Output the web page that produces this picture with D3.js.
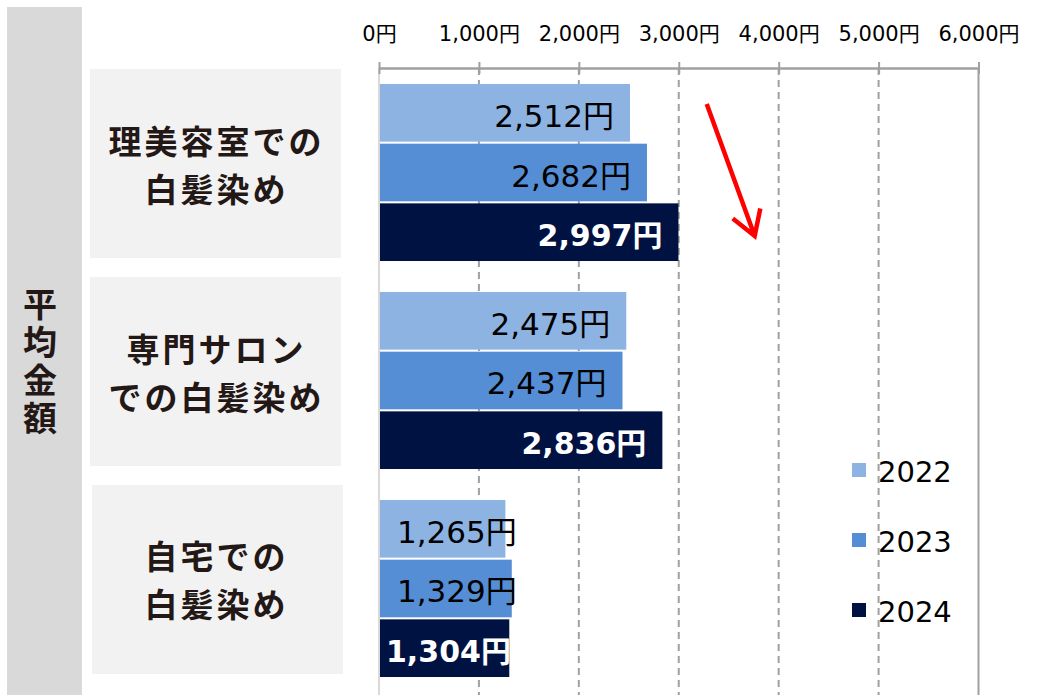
<!DOCTYPE html>
<html><head><meta charset="utf-8">
<script src="https://cdn.jsdelivr.net/npm/d3@7"></script>
<style>body{margin:0;background:#fff}svg{display:block}</style>
</head><body>
<svg id="c" width="1064" height="695"></svg>
<script>
const categories = ["理美容室での|白髪染め", "専門サロン|での白髪染め", "自宅での|白髪染め"];
const years = ["2022", "2023", "2024"];
const values2022 = [2512, 2475, 1265];
const values2023 = [2682, 2437, 1329];
const values2024 = [2997, 2836, 1304];
const tickValues = [0, 1000, 2000, 3000, 4000, 5000, 6000];
const sideTitle = "平均金額";
const colors = ["#8DB3E2", "#558ED5", "#001242"];

const series = [values2022, values2023, values2024];
const svg = d3.select("#c");
const numFont = "'DejaVu Sans', 'Noto Sans CJK JP', sans-serif";
const jpFont = "'Noto Sans CJK JP', sans-serif";

const x = d3.scaleLinear().domain([0, 6000]).range([379, 978.5]);
const y = d3.scaleBand().domain(categories).range([84, 677]).paddingInner(0.149).paddingOuter(0);
const yi = d3.scaleBand().domain(years).range([0, y.bandwidth()]).paddingInner(0.034);

// left strip
svg.append("rect").attr("x", 7).attr("y", 7).attr("width", 75).attr("height", 695).attr("fill", "#D9D9D9");
svg.append("text")
  .attr("x", 40).attr("y", 287)
  .attr("writing-mode", "vertical-rl")
  .attr("letter-spacing", 4)
  .attr("font-family", jpFont).attr("font-weight", 700).attr("font-size", 34)
  .attr("fill", "#231815").text(sideTitle);

// category boxes
const cg = svg.append("g").selectAll("g").data(categories).join("g")
  .attr("transform", d => `translate(0,${y(d) + y.bandwidth() / 2 - 9})`);
cg.append("rect").attr("x", (d, i) => i === 2 ? 92 : 90).attr("y", -94.5)
  .attr("width", 251).attr("height", 189).attr("fill", "#F2F2F2");
cg.append("text")
  .attr("text-anchor", "middle").attr("dominant-baseline", "central")
  .attr("font-family", jpFont).attr("font-weight", 700).attr("font-size", 33)
  .attr("letter-spacing", 3)
  .attr("fill", "#231815")
  .each(function (d) {
    d3.select(this).selectAll("tspan").data(d.split("|")).join("tspan")
      .attr("x", 216.5).attr("y", (l, i) => (i - 0.5) * 48)
      .text(l => l);
  });

// grid
const yTop = 68, yBot = 695;
svg.append("g").selectAll("line").data(tickValues).join("line")
  .attr("x1", d => x(d)).attr("x2", d => x(d)).attr("y1", yTop).attr("y2", yBot)
  .attr("stroke", (d, i) => i === 0 ? "#D9D9D9" : "#A0A0A0")
  .attr("stroke-width", 2)
  .attr("stroke-dasharray", (d, i) => (i === 0 || i === tickValues.length - 1) ? null : "7,5");

// top axis
const axis = d3.axisTop(x).tickValues(tickValues).tickSizeInner(0).tickSizeOuter(0)
  .tickFormat(d => d3.format(",")(d) + "円");
const ag = svg.append("g").attr("transform", `translate(0,${yTop})`).call(axis);
ag.select(".domain").attr("stroke", "#A0A0A0").attr("stroke-width", 2.5);
ag.selectAll(".tick text").attr("font-family", numFont).attr("font-size", 21)
  .attr("fill", "#000").attr("y", -34).attr("dy", "0.35em");
ag.selectAll(".tick").append("line").attr("y1", -6).attr("y2", 6)
  .attr("stroke", "#A0A0A0").attr("stroke-width", 2);

// bars
const bg = svg.append("g").selectAll("g").data(categories).join("g")
  .attr("transform", d => `translate(0,${y(d)})`);
bg.each(function (cat, ci) {
  const g = d3.select(this);
  years.forEach((yr, si) => {
    const v = series[si][ci];
    g.append("rect").attr("x", x(0) + 1).attr("y", yi(yr))
      .attr("width", x(v) - x(0) - 1).attr("height", yi.bandwidth())
      .attr("fill", colors[si]);
    const bold = si === 2;
    const t = g.append("text").attr("y", yi(yr) + yi.bandwidth() / 2 + 3)
      .attr("dominant-baseline", "central")
      .attr("font-family", numFont).attr("font-size", bold ? 30 : 31)
      .attr("font-weight", bold ? 700 : 400)
      .attr("fill", bold ? "#fff" : "#000")
      .text(d3.format(",")(v) + "円");
    const w = t.node().getComputedTextLength();
    const pad = bold ? 7 : 18;
    let end = x(v) - 16;
    if (end - w < x(0) + pad) end = x(0) + pad + w;
    t.attr("x", end).attr("text-anchor", "end");
  });
});

// legend
const lg = svg.append("g").selectAll("g").data(years).join("g")
  .attr("transform", (d, i) => `translate(852,${470 + i * 70})`);
lg.append("rect").attr("x", 0).attr("y", -7).attr("width", 14).attr("height", 14)
  .attr("fill", (d, i) => colors[i]);
lg.append("text").attr("x", 26).attr("y", 2).attr("dominant-baseline", "central")
  .attr("font-family", numFont).attr("font-size", 29).attr("fill", "#000").text(d => d);

// red arrow
const ax1 = x(3280), ay1 = y(categories[0]) + 20, ax2 = x(3760), ay2 = y(categories[0]) + 152;
const ang = Math.atan2(ay2 - ay1, ax2 - ax1);
const hl = 28, ha = 0.55;
svg.append("path")
  .attr("d", `M${ax1},${ay1}L${ax2},${ay2}M${ax2 - hl * Math.cos(ang - ha)},${ay2 - hl * Math.sin(ang - ha)}L${ax2},${ay2}L${ax2 - hl * Math.cos(ang + ha)},${ay2 - hl * Math.sin(ang + ha)}`)
  .attr("fill", "none").attr("stroke", "#FF0000").attr("stroke-width", 4.5)
  .attr("stroke-linejoin", "miter");
</script>
</body></html>
